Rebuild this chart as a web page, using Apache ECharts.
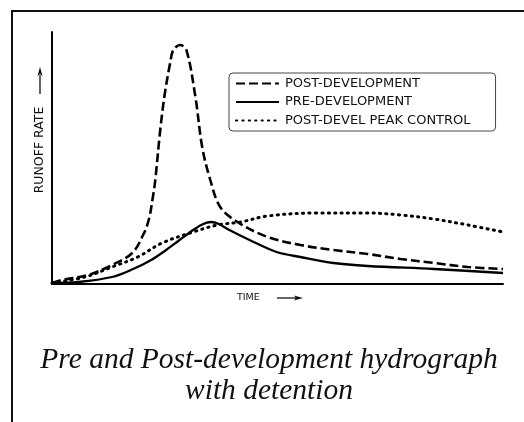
<!DOCTYPE html>
<html>
<head>
<meta charset="utf-8">
<script src="https://cdn.jsdelivr.net/npm/echarts@6/dist/echarts.min.js"></script>
<style>
html,body{margin:0;padding:0;background:#fff;}
#chart{width:524px;height:422px;}
</style>
</head>
<body>
<div id="chart"></div>
<script>
// Data (time in % of axis, rate in arbitrary units)
const seriesNames = ['POST-DEVELOPMENT', 'PRE-DEVELOPMENT', 'POST-DEVEL PEAK CONTROL'];

const postTime = [0, 2.2, 8, 13.3, 17.8, 20.3, 21.5, 22.3, 22.9, 24, 25, 26.2, 26.9, 28.4, 29.8, 31.8, 33.3, 35.1, 37.3, 41.1, 47.8, 55.1, 62.4, 70, 77.3, 84.7, 92.2, 100];
const postRate = [1, 4, 9, 19, 31, 50, 65, 85, 104, 154, 190, 221, 234, 239, 234, 187, 137, 104, 77, 62, 47, 39, 34, 30, 25, 21, 17, 15];

const preTime = [0, 5.8, 13.3, 18, 22, 25, 28, 31.3, 33.5, 35.3, 37, 38.9, 43.8, 49.8, 55.1, 62.4, 70, 84.7, 100];
const preRate = [1, 2, 7, 15, 24, 33, 43, 54, 60, 62, 60, 55, 44, 32, 27, 21, 18, 15, 11];

const ctrlTime = [0, 7.3, 13.3, 19, 24.4, 31.3, 36.7, 41.8, 47.8, 58.7, 70, 77.3, 84.7, 92.2, 100];
const ctrlRate = [1, 7, 17, 27, 41, 52, 59, 62, 68, 71, 71, 69, 65, 59, 52];

const xAxisTitle = 'TIME';
const yAxisTitle = 'RUNOFF RATE';
const chartTitle = 'Pre and Post-development hydrograph\nwith detention';

function pairs(t, v) { return t.map((x, i) => [x, v[i]]); }

const chart = echarts.init(document.getElementById('chart'), null, {renderer: 'canvas'});
chart.setOption({
  animation: false,
  backgroundColor: '#fff',
  grid: {left: 52, top: 32, right: 21, bottom: 138, containLabel: false},
  xAxis: {
    type: 'value', min: 0, max: 100,
    axisLine: {show: true, onZero: false, lineStyle: {color: '#000', width: 2}},
    axisTick: {show: false}, axisLabel: {show: false}, splitLine: {show: false}
  },
  yAxis: {
    type: 'value', min: 0, max: 252,
    axisLine: {show: true, lineStyle: {color: '#000', width: 2}},
    axisTick: {show: false}, axisLabel: {show: false}, splitLine: {show: false}
  },
  legend: {
    orient: 'vertical',
    left: 229, top: 73,
    padding: [4, 25, 4, 6],
    itemWidth: 43, itemHeight: 12, itemGap: 5.5,
    itemStyle: {color: 'rgba(0,0,0,0)', borderColor: 'rgba(0,0,0,0)', borderWidth: 0},
    textStyle: {fontFamily: 'DejaVu Sans', fontSize: 13, lineHeight: 12, color: '#111', padding: [0, 0, 0, 1]},
    borderColor: '#444', borderWidth: 1, borderRadius: 4,
    data: seriesNames
  },
  title: {
    text: chartTitle,
    left: 264, top: 340, textAlign: 'center',
    textStyle: {fontFamily: 'Liberation Serif', fontStyle: 'italic', fontWeight: 'normal', fontSize: 29.5, lineHeight: 31, color: '#111'}
  },
  graphic: [
    {type: 'polyline', shape: {points: [[12, 422], [12, 11], [524, 11]]}, style: {stroke: '#111', lineWidth: 2, fill: null}, silent: true},
    {type: 'text', x: 237, y: 298, style: {text: xAxisTitle, font: '9.5px "DejaVu Sans"', fill: '#111', verticalAlign: 'middle'}},
    {type: 'line', shape: {x1: 277, y1: 298, x2: 296, y2: 298}, style: {stroke: '#111', lineWidth: 1.3}},
    {type: 'polygon', shape: {points: [[303, 298], [294, 295.5], [296, 298], [294, 300.5]]}, style: {fill: '#111'}},
    {type: 'text', x: 40, y: 150, rotation: Math.PI / 2, style: {text: yAxisTitle, font: '12.5px "DejaVu Sans"', fill: '#111', align: 'center', verticalAlign: 'middle'}},
    {type: 'line', shape: {x1: 40, y1: 94, x2: 40, y2: 75}, style: {stroke: '#111', lineWidth: 1.3}},
    {type: 'polygon', shape: {points: [[40, 67], [37.5, 76], [40, 74], [42.5, 76]]}, style: {fill: '#111'}}
  ],
  series: [
    {name: seriesNames[0], type: 'line', data: pairs(postTime, postRate), smooth: 0.35, symbol: 'none',
     lineStyle: {color: '#000', width: 2.6, type: [9, 4]}, itemStyle: {color: '#000'}},
    {name: seriesNames[1], type: 'line', data: pairs(preTime, preRate), smooth: 0.35, symbol: 'none',
     lineStyle: {color: '#000', width: 2.3, type: 'solid'}, itemStyle: {color: '#000'}},
    {name: seriesNames[2], type: 'line', data: pairs(ctrlTime, ctrlRate), smooth: 0.35, symbol: 'none',
     lineStyle: {color: '#000', width: 3, type: [1.2, 5.2], cap: 'round'}, itemStyle: {color: '#000'}}
  ]
});
</script>
</body>
</html>
